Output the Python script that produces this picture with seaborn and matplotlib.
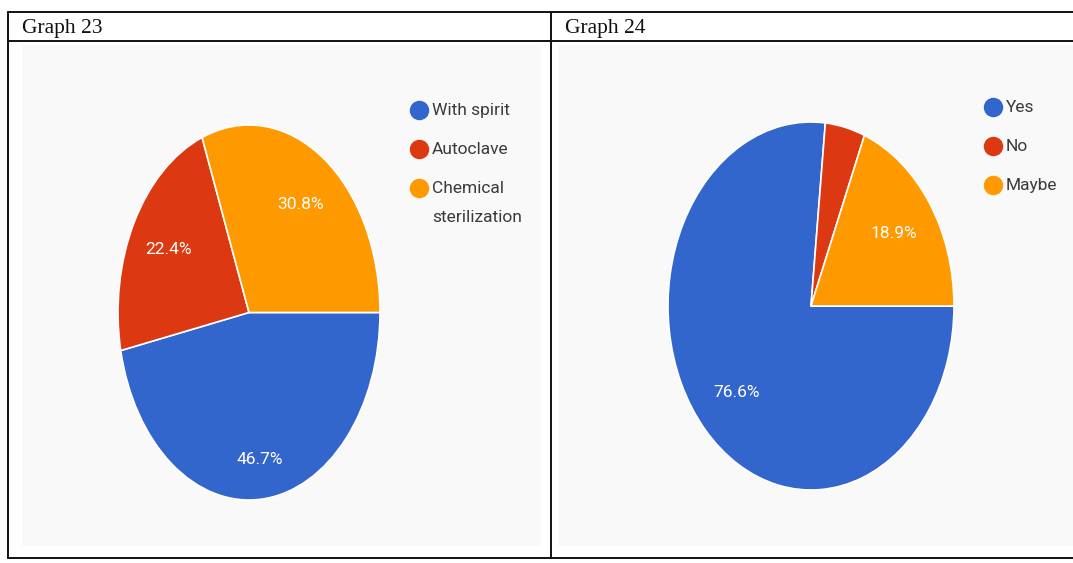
import matplotlib
matplotlib.use("Agg")
import matplotlib.pyplot as plt
from matplotlib.lines import Line2D
from matplotlib.patches import Rectangle
import seaborn as sns
import numpy as np

# Survey results
g23_title = "Graph 23"
g23_labels = ["With spirit", "Autoclave", "Chemical\nsterilization"]
g23_values = [46.7, 22.4, 30.8]

g24_title = "Graph 24"
g24_labels = ["Yes", "No", "Maybe"]
g24_values = [76.6, 4.5, 18.9]

colors = ["#3366CC", "#DC3912", "#FF9900"]

sns.set_theme(style="white")
plt.rcParams["font.family"] = ["Roboto", "DejaVu Sans"]

W, H = 1073, 563
fig = plt.figure(figsize=(W / 100, H / 100), dpi=100)
fig.patch.set_facecolor("white")


def fx(x):
    return x / W


def fy(y):
    return 1 - y / H


def box(x0, y0, x1, y1):
    return [fx(x0), fy(y1), fx(x1) - fx(x0), fy(y0) - fy(y1)]


# Light panels behind each chart
for x0, x1 in [(22, 541), (558, 1073)]:
    fig.add_artist(Rectangle((fx(x0), fy(546)), fx(x1) - fx(x0), fy(45) - fy(546),
                             transform=fig.transFigure, facecolor="#f9f9f9",
                             edgecolor="none", zorder=0))

# Table rules
lw = 1.4
for y in [12, 41, 558]:
    fig.add_artist(Line2D([fx(8), 1.0], [fy(y), fy(y)], transform=fig.transFigure,
                          color="#111111", lw=lw, zorder=5))
for x in [8, 551]:
    fig.add_artist(Line2D([fx(x), fx(x)], [fy(12), fy(558)], transform=fig.transFigure,
                          color="#111111", lw=lw, zorder=5))

# Cell headers
for x, t in [(22, g23_title), (565, g24_title)]:
    fig.text(fx(x), fy(28), t, family="Liberation Serif", fontsize=15.5,
             color="#111111", va="center", ha="left")


def draw_pie(rect, values, big_dist):
    ax = fig.add_axes(rect)
    wedges, texts, autotexts = ax.pie(
        values, colors=colors, startangle=0, counterclock=False,
        autopct="%1.1f%%", pctdistance=0.7,
        wedgeprops=dict(edgecolor="white", linewidth=1.2),
        textprops=dict(color="white", fontsize=12.5))
    ax.set_aspect("auto")
    ax.set_xlim(-1, 1)
    ax.set_ylim(-1, 1)
    ax.axis("off")
    for i, t in enumerate(autotexts):
        if values[i] < 5:
            t.set_visible(False)
    if big_dist is not None:
        t = autotexts[0]
        x, y = t.get_position()
        t.set_position((x * big_dist / 0.7, y * big_dist / 0.7))
    return ax


ax23 = draw_pie(box(118, 125, 380, 500), g23_values, 0.79)
ax24 = draw_pie(box(668, 122, 954, 490), g24_values, None)


def legend(labels, x, y, step=39):
    # circle swatch with its label; wrapped labels hang below the first line
    for i, (lab, c) in enumerate(zip(labels, colors)):
        yy = y + i * step
        fig.add_artist(Line2D([fx(x)], [fy(yy)], transform=fig.transFigure,
                              marker="o", linestyle="none", markersize=13,
                              markerfacecolor=c, markeredgecolor=c, zorder=6))
        fig.text(fx(x + 13), fy(yy - 7), lab, fontsize=12.5, color="#3a3a3a",
                 ha="left", va="top", linespacing=2.2)


legend(g23_labels, 419, 110)
legend(g24_labels, 993, 107)

fig.savefig("out.png", dpi=100, facecolor="white")
